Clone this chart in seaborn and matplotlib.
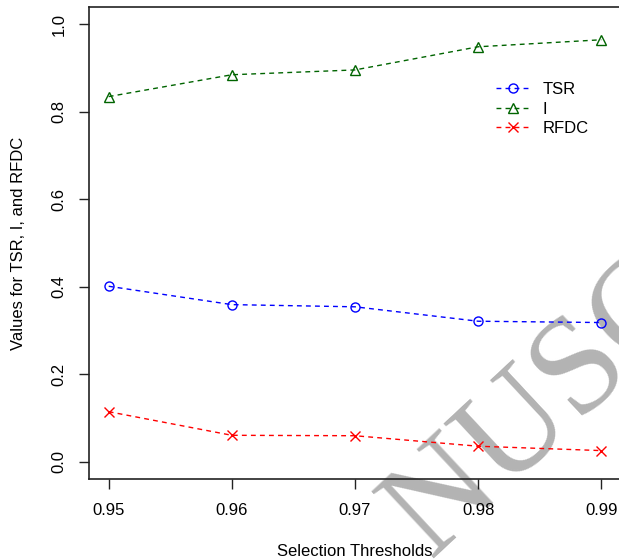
import numpy as np
import pandas as pd
import matplotlib
matplotlib.use("Agg")
import matplotlib.pyplot as plt
import seaborn as sns

# values
thresholds = [0.95, 0.96, 0.97, 0.98, 0.99]
tsr = [0.401, 0.359, 0.354, 0.321, 0.318]
idx = [0.835, 0.885, 0.896, 0.949, 0.965]
rfdc = [0.114, 0.060, 0.059, 0.035, 0.025]
names = ["TSR", "I", "RFDC"]
colors = ["#0000ff", "#006400", "#ff0000"]
markers = ["o", "^", "x"]

sns.set_style("white")
plt.rcParams["font.family"] = ["Liberation Sans", "DejaVu Sans"]
plt.rcParams["text.color"] = "black"
plt.rcParams["axes.labelcolor"] = "black"
plt.rcParams["xtick.color"] = "black"
plt.rcParams["ytick.color"] = "black"

fig = plt.figure(figsize=(6.19, 5.60), dpi=100)
ax = fig.add_axes([89 / 619, 1 - 479 / 560, (621 - 89) / 619, (479 - 7) / 560])

for name, vals, c, m in zip(names, [tsr, idx, rfdc], colors, markers):
    sns.lineplot(x=thresholds, y=vals, ax=ax, color=c, marker=m, markersize=7 if m == "^" else 6.5,
                 mfc="none", mec=c, mew=1.0, linewidth=1.0, label=name)
    ax.lines[-1].set_dashes((3.5, 3))

ax.set_xlim(0.95 - 0.0016, 0.99 + 0.0016)
ax.set_ylim(-0.04, 1.04)
ax.set_xticks(thresholds)
ax.set_xticklabels(["0.95", "0.96", "0.97", "0.98", "0.99"])
ax.set_yticks([0.0, 0.2, 0.4, 0.6, 0.8, 1.0])
ax.set_yticklabels(["0.0", "0.2", "0.4", "0.6", "0.8", "1.0"], rotation=90, va="center")
ax.tick_params(axis="both", direction="out", length=7.2, width=1, color="#222222",
               labelsize=12, left=True, bottom=True)
ax.tick_params(axis="x", pad=10)
ax.tick_params(axis="y", pad=9)
for s in ["left", "bottom", "top", "right"]:
    ax.spines[s].set_color("#222222")
    ax.spines[s].set_linewidth(1.2)

ax.set_xlabel("Selection Thresholds", fontsize=12, labelpad=19)
ax.set_ylabel("Values for TSR, I, and RFDC", fontsize=12, labelpad=18)

leg = ax.legend(loc="upper left", bbox_to_anchor=(488 / 619, 1 - 74 / 560),
                bbox_transform=fig.transFigure, frameon=False, fontsize=12,
                handlelength=2.0, handletextpad=0.8, labelspacing=0.27, borderpad=0)

# watermark
ax.text(430 / 619, 1 - 558 / 560, "NUSCRIPT", transform=fig.transFigure, rotation=43,
        rotation_mode="anchor", ha="left", va="baseline", fontsize=100,
        family="Liberation Serif", color="#b3b3b3", zorder=0, clip_on=False)

fig.savefig("out.png", dpi=100)
